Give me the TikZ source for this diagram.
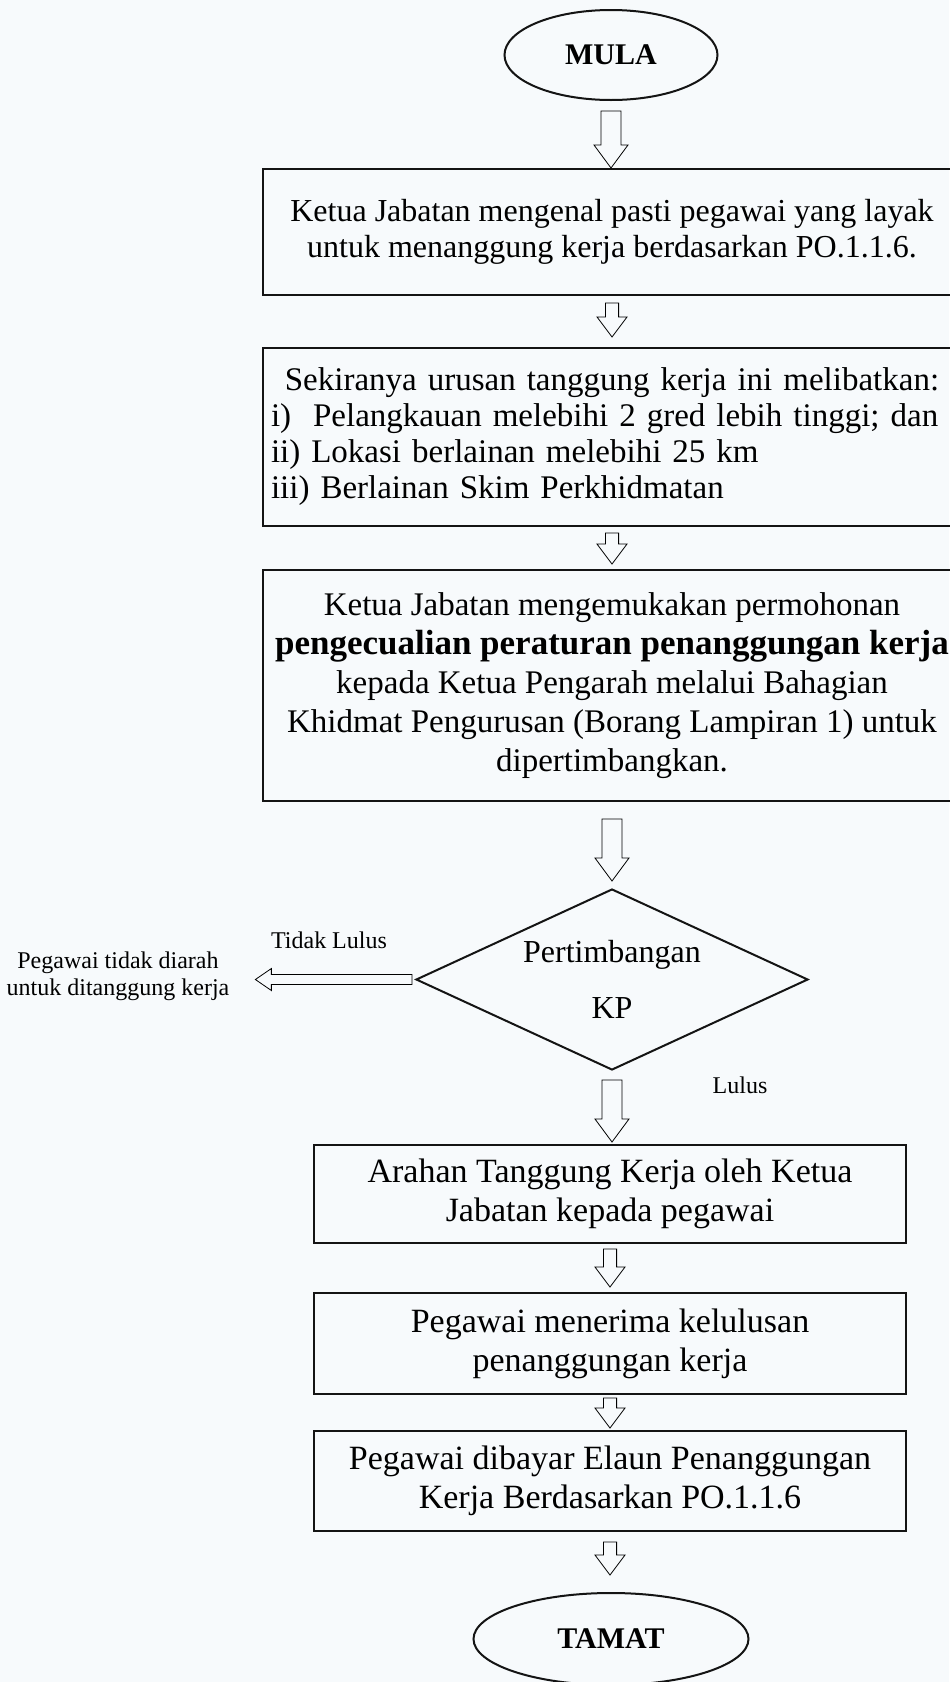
\documentclass[tikz,border=0pt]{standalone}
\usepackage{fontspec}
\setmainfont{Liberation Serif}
\usetikzlibrary{shapes.geometric,calc,positioning}
\definecolor{paper}{RGB}{247,250,252}
\definecolor{ink}{RGB}{20,20,20}
\tikzset{
  stepbox/.style={draw=ink,line width=1pt,align=center,inner sep=0pt,
    minimum width=349pt,font=\fontsize{16}{18}\selectfont},
  lowbox/.style={draw=ink,line width=1pt,align=center,inner sep=0pt,
    minimum width=296pt,font=\fontsize{17}{19.5}\selectfont},
  terminal/.style={ellipse,draw=ink,line width=1pt,inner sep=0pt,
    font=\fontsize{15}{18}\selectfont\bfseries},
  decision/.style={diamond,draw=ink,line width=1pt,aspect=2.15,inner sep=0pt,
    minimum width=196pt,minimum height=90.5pt,align=center,
    font=\fontsize{16}{28}\selectfont},
  note/.style={align=center,font=\fontsize{12}{13.5}\selectfont},
  % hollow block arrows
  hollow down/.style n args={3}{draw=ink,line width=0.9pt,to path={
    let \p1=(\tikztostart), \p2=(\tikztotarget) in
    (\x1-#1,\y1) -- (\x1-#1,\y2+#3) -- (\x1-#2,\y2+#3) -- (\x1,\y2)
    -- (\x1+#2,\y2+#3) -- (\x1+#1,\y2+#3) -- (\x1+#1,\y1) -- cycle}},
  hollow left/.style n args={3}{draw=ink,line width=0.9pt,to path={
    let \p1=(\tikztostart), \p2=(\tikztotarget) in
    (\x1,\y1+#1) -- (\x2+#3,\y1+#1) -- (\x2+#3,\y1+#2) -- (\x2,\y1)
    -- (\x2+#3,\y1-#2) -- (\x2+#3,\y1-#1) -- (\x1,\y1-#1) -- cycle}},
  big arrow/.style={hollow down={5pt}{8.5pt}{11.5pt}},
  small arrow/.style={hollow down={3.3pt}{7.5pt}{10pt}},
}
\begin{document}
\begin{tikzpicture}[x=0.5pt,y=-0.5pt]
  \fill[paper] (0,0) rectangle (949,1682);
  \useasboundingbox (0,0) rectangle (949,1682);

  \node[terminal,minimum width=106.5pt,minimum height=45pt] (mula) at (611,55) {MULA};
  \node[stepbox,minimum height=63pt] (kenal) at (612,232)
    {Ketua Jabatan mengenal pasti pegawai yang layak\\
     untuk menanggung kerja berdasarkan PO.1.1.6.};
  \node[stepbox,minimum height=89pt,align=left,text width=341pt,
    font=\fontsize{16.5}{18}\selectfont] (syarat) at (612,437)
    {\centerline{Sekiranya urusan tanggung kerja ini melibatkan:}
     i)~~Pelangkauan melebihi 2 gred lebih tinggi; dan\\
     ii) Lokasi berlainan melebihi 25 km\\
     iii) Berlainan Skim Perkhidmatan};
  \node[stepbox,minimum height=115.5pt,font=\fontsize{16.5}{19.5}\selectfont] (mohon) at (612,685.5)
    {Ketua Jabatan mengemukakan permohonan\\
     {\fontsize{17.5}{19.5}\selectfont\bfseries pengecualian peraturan penanggungan kerja}\\
     kepada Ketua Pengarah melalui Bahagian\\
     Khidmat Pengurusan (Borang Lampiran 1) untuk\\
     dipertimbangkan.};
  \node[decision] (kp) at (612,979.5) {Pertimbangan\\KP};
  \node[lowbox,minimum height=49pt] (arahan) at (610,1194)
    {Arahan Tanggung Kerja oleh Ketua\\ Jabatan kepada pegawai};
  \node[lowbox,minimum height=50.5pt] (terima) at (610,1343.5)
    {Pegawai menerima kelulusan\\ penanggungan kerja};
  \node[lowbox,minimum height=50pt] (elaun) at (610,1481)
    {Pegawai dibayar Elaun Penanggungan\\ Kerja Berdasarkan PO.1.1.6};
  \node[terminal,minimum width=137.5pt,minimum height=46pt] (tamat) at (611,1639) {TAMAT};

  \node[note] (tolak) at (118,976) {Pegawai tidak diarah\\untuk ditanggung kerja};
  \node[note] (tidak) at (329,940) {Tidak Lulus};
  \node[note] (lulus) at (740,1085) {Lulus};

  \draw ([yshift=-5pt]mula.south) to[big arrow] (kenal.north);
  \draw ([yshift=-3.5pt]kenal.south) to[small arrow] ([yshift=5pt]syarat.north);
  \draw ([yshift=-3pt]syarat.south) to[small arrow] ([yshift=2.5pt]mohon.north);
  \draw ([yshift=-8.5pt]mohon.south) to[big arrow] ([yshift=3.5pt]kp.north);
  \draw ([yshift=-4.5pt]kp.south) to[big arrow] ([yshift=1pt]arahan.north);
  \draw ([yshift=-2.5pt]arahan.south) to[small arrow] ([yshift=2.5pt]terima.north);
  \draw ([yshift=-1.5pt]terima.south) to[small arrow] ([yshift=1pt]elaun.north);
  \draw ([yshift=-5pt]elaun.south) to[small arrow] ([yshift=8.5pt]tamat.north);
  \draw ([xshift=-1.5pt]kp.west) to[hollow left={2.5pt}{5.5pt}{8pt}] ([xshift=9.5pt]tolak.east);
\end{tikzpicture}
\end{document}
